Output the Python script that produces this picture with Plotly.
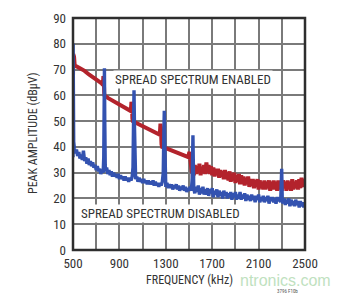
import plotly.graph_objects as go

# ---------------- data ----------------
x_tick_vals = [500, 700, 900, 1100, 1300, 1500, 1700, 1900, 2100, 2300, 2500]
x_tick_text = ["500", "", "900", "", "1300", "", "1700", "", "2100", "", "2500"]
y_tick_vals = [0, 10, 20, 30, 40, 50, 60, 70, 80, 90]

# spread spectrum DISABLED (blue) - frequency (kHz) / peak amplitude (dBuV)
blue_freq = (
    [500, 501, 503, 506, 512, 520, 530, 540, 550, 560, 570, 580, 590, 600, 610, 620, 630, 640, 650,
     660, 670, 680, 690, 700, 710, 720, 730, 740, 750, 760]
    + [765, 768, 771, 774, 778]
    + [780, 790, 800, 810, 820, 830, 840, 850, 860, 870, 880, 890, 900, 910, 920, 930, 940, 950,
       960, 970, 980, 990, 1000, 1010]
    + [1017, 1022, 1026, 1030, 1035]
    + [1040, 1050, 1060, 1070, 1080, 1090, 1100, 1110, 1120, 1130, 1140, 1150, 1160, 1170, 1180,
       1190, 1200, 1210, 1220, 1230, 1240, 1250, 1260, 1270]
    + [1278, 1283, 1287, 1291, 1296]
    + [1300, 1310, 1320, 1330, 1340, 1350, 1360, 1370, 1380, 1390, 1400, 1410, 1420, 1430, 1440,
       1450, 1460, 1470, 1480, 1490, 1500, 1510, 1520]
    + [1528, 1531, 1534, 1537, 1541]
    + [1550, 1560, 1570, 1580, 1590, 1600, 1610, 1620, 1630, 1640,
       1650, 1660, 1670, 1680, 1690, 1700, 1710, 1720, 1730, 1740,
       1750, 1760, 1770, 1780, 1790, 1800, 1810, 1820, 1830, 1840,
       1850, 1860, 1870, 1880, 1890, 1900, 1910, 1920, 1930, 1940,
       1950, 1960, 1970, 1980, 1990, 2000, 2010, 2020, 2030, 2040,
       2050, 2060, 2070, 2080, 2090, 2100, 2110, 2120, 2130, 2140,
       2150, 2160, 2170, 2180, 2190, 2200, 2210, 2220, 2230, 2240,
       2250, 2260, 2270, 2280, 2290]
    + [2294, 2297, 2299, 2301, 2304]
    + [2310, 2320, 2330, 2340, 2350, 2360, 2370, 2380, 2390, 2400,
       2410, 2420, 2430, 2440, 2450, 2460, 2470, 2480, 2490, 2500]
)
blue_db = (
    [36, 80, 60, 42, 39.5, 37.5, 39, 36.5, 38, 35.5, 37, 35, 38.5, 34.5, 36, 33.5, 35.5, 33, 34.5,
     32.5, 34, 32, 33, 31, 32.5, 30.5, 31.5, 29.5, 31, 30]
    + [36, 55, 70.5, 50, 33]
    + [30.5, 32, 29.5, 31, 29, 30.5, 28.5, 30, 28.5, 29.5, 28, 29.5, 27.5, 29, 27.5, 28.5, 27, 28.5,
       27, 28, 26.5, 28, 27, 28.5]
    + [32, 50, 62, 48, 31]
    + [27.5, 28.5, 26.5, 28, 26.5, 27.5, 26, 27.5, 26, 27, 25.5, 27, 25.5, 26.5, 25.5,
       27, 25, 26.5, 25, 26, 24.5, 26, 25, 26.5]
    + [30, 45, 54, 42, 28]
    + [24.5, 26, 24, 25.5, 24, 25.5, 23.5, 25, 24, 25.5, 23.5, 25, 23, 24.5, 23.5,
       25, 23, 24.5, 22.5, 24, 23, 24.5, 23]
    + [28, 38, 44.5, 35, 24]
    + [22, 24.5, 22.5, 25, 21.5, 24, 22, 24.5, 21.5, 23.5,
       21.5, 24, 21, 23.5, 22, 24, 20.5, 23, 21.5, 23.5,
       20.5, 23, 21, 22.5, 20, 23, 21, 22.5, 20, 22,
       20.5, 22.5, 19.5, 22, 20.5, 22.5, 19.5, 21.5, 20, 22.5,
       19.5, 21.5, 20, 22, 19, 21.5, 19.5, 21, 19, 21.5,
       19.5, 21, 18.5, 21, 19.5, 21.5, 18.5, 20.5, 19, 21,
       18.5, 20.5, 19, 21, 18, 20.5, 19, 20.5, 18.5, 20,
       18, 20.5, 19, 20, 18.5]
    + [24, 29, 31.5, 27, 20]
    + [18, 20, 17.5, 19.5, 18, 20, 17, 19.5, 17.5, 19,
       17, 19.5, 17.5, 19, 16.5, 19, 17, 18.5, 16.5, 18.5]
)

# spread spectrum ENABLED (red)
red_freq = (
    [500, 502, 505, 509, 514, 520, 560, 600, 640, 680, 720, 750]
    + [758, 762, 766, 769, 772]
    + [800, 850, 900, 950, 995]
    + [1000, 1004, 1008, 1012, 1016]
    + [1050, 1100, 1150, 1200, 1245]
    + [1250, 1254, 1258, 1263, 1268]
    + [1300, 1350, 1400, 1450, 1495]
    + [1500, 1505, 1510, 1515, 1520, 1525, 1530, 1534, 1538, 1542]
    + [1550, 1560, 1570, 1580, 1590, 1600, 1610, 1620, 1630, 1640,
       1650, 1660, 1670, 1680, 1690, 1700, 1710, 1720, 1730, 1740,
       1750, 1760, 1770, 1780, 1790, 1800, 1810, 1820, 1830, 1840,
       1850, 1860, 1870, 1880, 1890, 1900, 1910, 1920, 1930, 1940,
       1950, 1960, 1970, 1980, 1990, 2000, 2010, 2020, 2030, 2040,
       2050, 2060, 2070, 2080, 2090, 2100, 2110, 2120, 2130, 2140,
       2150, 2160, 2170, 2180, 2190, 2200, 2210, 2220, 2230, 2240,
       2250, 2260, 2270, 2280, 2290, 2300, 2310, 2320, 2330, 2340,
       2350, 2360, 2370, 2380, 2390, 2400, 2410, 2420, 2430, 2440,
       2450, 2460, 2470, 2480, 2490, 2500]
)
red_db = (
    [66, 76, 73, 75, 72, 71.5, 70.5, 69.5, 68, 66.5, 65.5, 64.5]
    + [64, 67.5, 66, 61, 60]
    + [59, 57.8, 56.5, 55.2, 54]
    + [55, 57.5, 56.5, 51, 50]
    + [49.2, 48, 46.8, 45.8, 44.8]
    + [46, 49, 47.5, 41, 40]
    + [39.5, 38.5, 37.5, 36.8, 36]
    + [37.5, 38, 36, 33, 35, 30, 33, 27, 31, 29]
    + [33, 29.5, 32.5, 30, 33.5, 29, 32, 30, 33, 29.5,
       34, 30, 33, 29.5, 32.5, 29, 32, 28.5, 31.5, 29,
       31.5, 28, 31, 28.5, 30.5, 27.5, 31, 27.5, 30, 27,
       30.5, 26.5, 29.5, 27, 30, 26, 29, 26.5, 29.5, 25.5,
       29, 25.5, 28.5, 25, 28, 25.5, 28.5, 24.5, 27.5, 25,
       27.5, 24, 27, 24.5, 27.5, 23.5, 27, 24, 26.5, 23.5,
       27, 23.5, 26.5, 24, 27, 23, 26.5, 23.5, 27, 23.5,
       26.5, 23, 27, 23.5, 26.5, 23, 27, 24, 26.5, 23,
       27, 23.5, 26.5, 23, 27.5, 23.5, 26.5, 24, 27, 23.5,
       27.5, 24, 28, 24.5, 27.5, 25]
)

label_enabled = "SPREAD SPECTRUM ENABLED"
label_disabled = "SPREAD SPECTRUM DISABLED"

# ---------------- figure ----------------
W, H = 357, 294
L, R, T, B = 73, 305, 18, 250

RED = "#b3232c"
BLUE = "#3352b0"
TXT = "#333333"
GRID = "#7a7a7a"
FONT = "Liberation Sans Narrow, Roboto Condensed, Liberation Sans, Arial, sans-serif"

fig = go.Figure()
fig.add_trace(go.Scatter(x=red_freq, y=red_db, mode="lines",
                         line=dict(color=RED, width=4), hoverinfo="skip"))
fig.add_trace(go.Scatter(x=blue_freq, y=blue_db, mode="lines",
                         line=dict(color=BLUE, width=3.4), hoverinfo="skip"))

fig.update_layout(
    width=W, height=H,
    margin=dict(l=L, r=W - R, t=T, b=H - B, pad=0),
    paper_bgcolor="white", plot_bgcolor="white",
    showlegend=False,
    font=dict(family=FONT, color=TXT, size=13),
)
fig.update_xaxes(range=[500, 2500], tickvals=x_tick_vals, ticktext=x_tick_text,
                 showgrid=True, gridcolor=GRID, gridwidth=2, zeroline=False,
                 showline=False, ticks="", ticklabelstandoff=4,
                 tickfont=dict(size=13, color=TXT, family=FONT))
fig.update_yaxes(range=[0, 90], tickvals=y_tick_vals,
                 showgrid=True, gridcolor=GRID, gridwidth=2, zeroline=False,
                 showline=False, ticks="", ticklabelstandoff=6,
                 tickfont=dict(size=13, color=TXT, family=FONT))

# frame
fig.add_shape(type="rect", xref="paper", yref="paper", x0=0, x1=1, y0=0, y1=1,
              line=dict(color="#2e2e2e", width=2.5), layer="above")


def px_x(p):
    return (p - L) / (R - L)


def px_y(p):
    return (B - p) / (B - T)


fig.add_annotation(x=845, y=66, xref="x", yref="y", text=label_enabled, showarrow=False,
                   xanchor="left", yanchor="middle", bgcolor="white",
                   font=dict(size=13, color=TXT, family=FONT))
fig.add_annotation(x=552, y=14, xref="x", yref="y", text=label_disabled, showarrow=False,
                   xanchor="left", yanchor="middle", bgcolor="white",
                   font=dict(size=13, color=TXT, family=FONT))

# axis titles
fig.add_annotation(x=px_x(33), y=px_y(134), xref="paper", yref="paper",
                   text="PEAK AMPLITUDE (dBµV)", textangle=-90, showarrow=False,
                   xanchor="center", yanchor="middle",
                   font=dict(size=12, color=TXT, family=FONT))
fig.add_annotation(x=px_x(189), y=px_y(280), xref="paper", yref="paper",
                   text="FREQUENCY (kHz)", showarrow=False,
                   xanchor="center", yanchor="middle",
                   font=dict(size=12, color=TXT, family=FONT))
# watermark and figure code
fig.add_annotation(x=px_x(238), y=px_y(280), xref="paper", yref="paper",
                   text="ntronics.com", showarrow=False, opacity=0.55,
                   xanchor="left", yanchor="middle",
                   font=dict(size=16, color="#8cc98c", family="Liberation Sans, Arial, sans-serif"))
fig.add_annotation(x=px_x(287), y=px_y(291), xref="paper", yref="paper",
                   text="3796 F10b", showarrow=False,
                   xanchor="center", yanchor="middle",
                   font=dict(size=5, color="#555555", family=FONT))

fig.write_html("out.html")
